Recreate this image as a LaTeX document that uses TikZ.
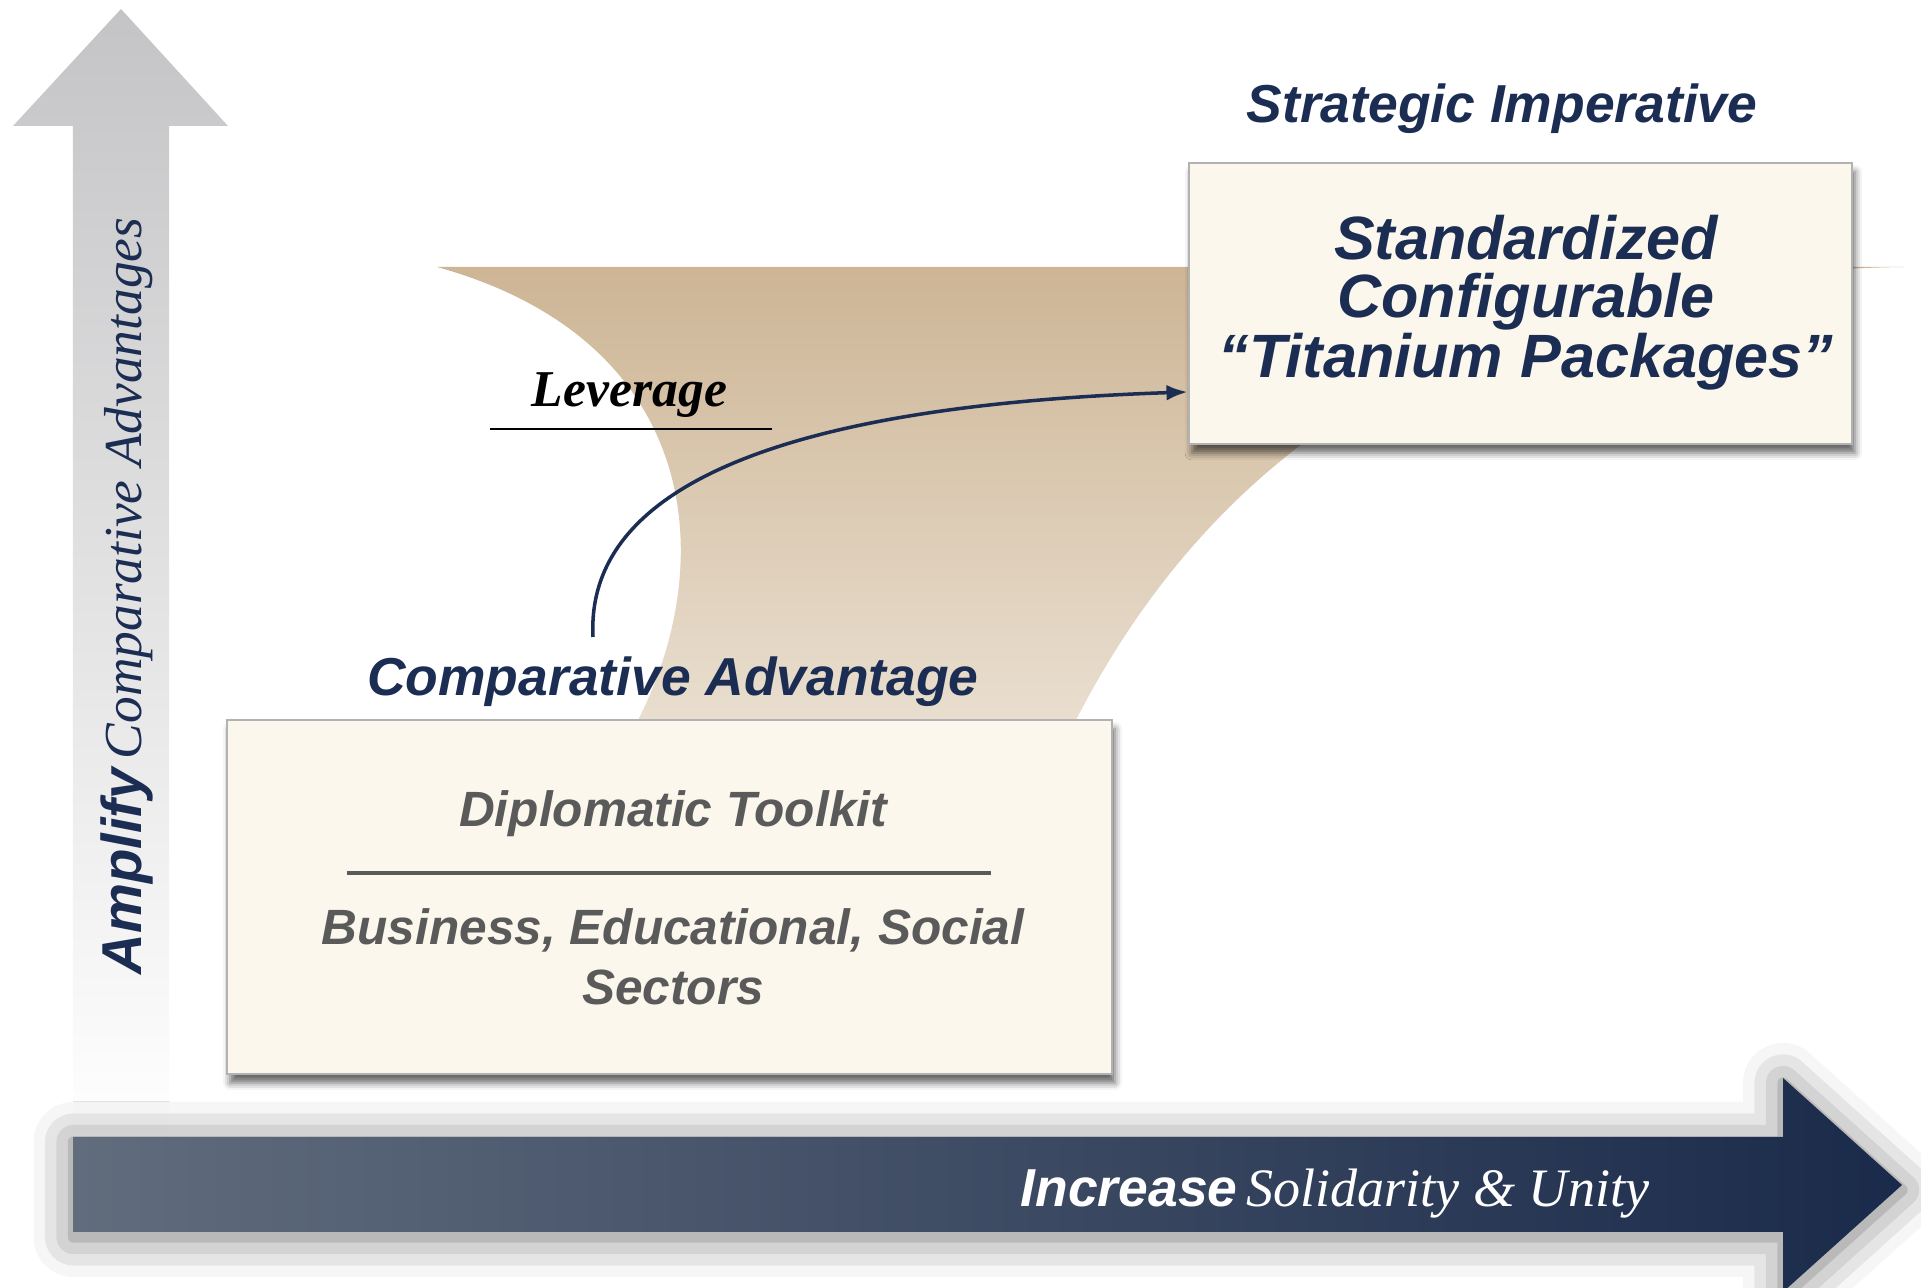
\documentclass[tikz,border=0pt]{standalone}
\usepackage{fontspec}
\setmainfont{Liberation Serif}
\setsansfont{Liberation Sans}
\usetikzlibrary{arrows.meta,shadows.blur}

\definecolor{navy}{HTML}{1B2D52}
\definecolor{cream}{HTML}{FBF7EC}
\definecolor{funneltop}{HTML}{CDB595}
\definecolor{funnelbottom}{HTML}{E9DECF}
\definecolor{slate}{HTML}{616C7D}
\definecolor{darkslate}{HTML}{1A2A4A}
\definecolor{greytext}{HTML}{5A5A5A}
\definecolor{axisgrey}{HTML}{C4C4C6}

\begin{document}
\begin{tikzpicture}[
    textbox/.style={draw=gray!60, fill=cream, line width=0.8pt, inner sep=0pt,
      blur shadow={shadow xshift=0.03cm, shadow yshift=-0.09cm,
        shadow blur radius=0.07cm, shadow opacity=60}},
    headline/.style={font=\sffamily\bfseries\itshape\fontsize{15.2pt}{16pt}\selectfont,
      text=navy, inner sep=0pt, anchor=base},
    boxline/.style={font=\sffamily\bfseries\itshape\fontsize{14.1pt}{15pt}\selectfont,
      text=greytext, inner sep=0pt, anchor=base},
    pkgline/.style={font=\sffamily\bfseries\itshape\fontsize{17.4pt}{17pt}\selectfont,
      text=navy, inner sep=0pt, anchor=base}
  ]
    \useasboundingbox (0,0) rectangle (19.21,12.88);

    % Tan funnel behind the boxes
    \shade[top color=funneltop, bottom color=funnelbottom]
      (4.37,10.21) .. controls (7.00,9.48) and (7.20,7.28) .. (6.38,5.68)
      -- (10.76,5.68)
      .. controls (12.30,8.68) and (15.00,10.16) .. (19.05,10.21) -- cycle;

    % Vertical axis arrow
    \shade[top color=axisgrey, bottom color=white]
      (0.73,1.48) -- (0.73,11.62) -- (0.13,11.62) -- (1.21,12.79)
      -- (2.28,11.62) -- (1.69,11.62) -- (1.69,1.48) -- cycle;
    \node[rotate=90, anchor=base, inner sep=0pt, text=navy] (ylabel) at (1.41,6.92)
      {{\sffamily\bfseries\itshape\fontsize{16pt}{17pt}\selectfont Amplify}
       {\itshape\fontsize{15.2pt}{16pt}\selectfont Comparative Advantages}};

    % Horizontal axis arrow
    \shade[left color=slate, right color=darkslate,
      blur shadow={shadow xshift=0cm, shadow yshift=-0.05cm,
        shadow blur radius=0.4cm, shadow opacity=55}]
      (0.735,0.56) -- (0.735,1.51) -- (17.83,1.51) -- (17.83,2.10)
      -- (19.02,1.03) -- (17.83,-0.04) -- (17.83,0.56) -- cycle;
    \node[anchor=base west, inner sep=0pt, text=white] (xlabel) at (10.20,0.81)
      {{\sffamily\bfseries\itshape\fontsize{15.2pt}{16pt}\selectfont Increase}
       {\itshape\fontsize{15.4pt}{16pt}\selectfont Solidarity \& Unity}};

    % Comparative advantage box
    \node[textbox, minimum width=8.85cm, minimum height=3.54cm] (toolbox) at (6.695,3.91) {};
    \node[headline] (advtitle) at (6.73,5.92) {Comparative Advantage};
    \node[boxline] (toolkit) at (6.73,4.61) {Diplomatic Toolkit};
    \draw[greytext, line width=1.4pt] (3.47,4.15) -- (9.91,4.15);
    \node[boxline] (sectors1) at (6.73,3.43) {Business, Educational, Social};
    \node[boxline] (sectors2) at (6.73,2.83) {Sectors};

    % Strategic imperative box
    \node[textbox, minimum width=6.63cm, minimum height=2.81cm] (pkgbox) at (15.205,9.845) {};
    \node[headline] (imptitle) at (15.02,11.65) {Strategic Imperative};
    \node[pkgline] (pkg1) at (15.26,10.28) {Standardized};
    \node[pkgline] (pkg2) at (15.26,9.70) {Configurable};
    \node[pkgline] (pkg3) at (15.26,9.10) {“Titanium Packages”};

    % Leverage label and arrow
    \node[anchor=base, inner sep=0pt,
      font=\rmfamily\bfseries\itshape\fontsize{14.7pt}{15pt}\selectfont] (leverage) at (6.295,8.81) {Leverage};
    \draw[line width=0.7pt] (4.90,8.59) -- (7.72,8.59);
    \coordinate (levstart) at (5.93,6.51);
    \draw[navy, line width=1pt, -{Latex[length=6pt,width=4.5pt]}]
      (levstart) .. controls (5.85,8.08) and (8.00,8.83) .. ([yshift=-0.885cm]pkgbox.west);
\end{tikzpicture}
\end{document}
